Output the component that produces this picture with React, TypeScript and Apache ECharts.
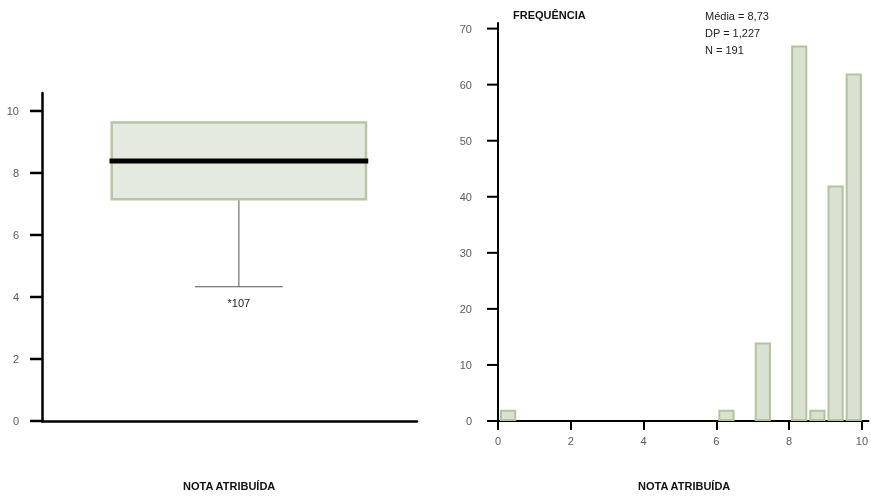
import React, { useEffect, useRef } from "react";
import * as echarts from "echarts";

// Box plot statistics (NOTA ATRIBUÍDA)
const boxStats = { low: 4.33, q1: 7.15, median: 8.39, q3: 9.63 };
const outlierValue = 3.82;
const outlierLabel = "*107";

// Histogram bins: [start, end, frequency]
const binStarts = [0, 6, 7, 8, 8.5, 9, 9.5];
const binEnds = [0.5, 6.5, 7.5, 8.5, 9, 9.5, 10];
const frequencies = [2, 2, 14, 67, 2, 42, 62];

// Tick values of the two y axes
const boxTicks = [0, 2, 4, 6, 8, 10];
const freqTicks = [0, 10, 20, 30, 40, 50, 60, 70];

const statLines = ["Média = 8,73", "DP = 1,227", "N = 191"];
const xTitle = "NOTA ATRIBUÍDA";
const yTitle = "FREQUÊNCIA";

const FONT = "'Liberation Sans', Arial, sans-serif";
const LABEL_COLOR = "#5a5a5a";

export default function App() {
  const ref = useRef<HTMLDivElement>(null);
  useEffect(() => {
    if (!ref.current) return;
    const chart = echarts.init(ref.current, undefined, { renderer: "svg" });
    const histData = binStarts.map((s, i) => [s, binEnds[i], frequencies[i]]);

    const tickSeries = (xi: number, ticks: number[], len: number, w: number) => ({
      type: "custom",
      xAxisIndex: xi,
      yAxisIndex: xi,
      data: ticks.map((t) => [0, t]),
      encode: { x: 0, y: 1 },
      renderItem: (params: any, api: any) => {
        const p = api.coord([api.value(0), api.value(1)]);
        return {
          type: "line",
          shape: { x1: p[0] - len, y1: p[1], x2: p[0], y2: p[1] },
          style: { stroke: "#000", lineWidth: w },
        };
      },
    });

    const titleStyle = { fontFamily: FONT, fontWeight: "bold", fontSize: 11, color: "#111" };

    const option: any = {
      animation: false,
      title: [
        { text: yTitle, left: 513, top: 9, padding: 0, textStyle: titleStyle },
        {
          text: statLines.join("\n"),
          left: 705,
          top: 7,
          padding: 0,
          textStyle: { fontFamily: FONT, fontWeight: "normal", fontSize: 11, lineHeight: 17, color: "#222" },
        },
        { text: xTitle, left: 183, top: 480, padding: 0, textStyle: titleStyle },
        { text: xTitle, left: 638, top: 480, padding: 0, textStyle: titleStyle },
      ],
      grid: [
        { left: 42, right: 454, top: 93, bottom: 75 },
        { left: 498, right: 1, top: 23, bottom: 75 },
      ],
      xAxis: [
        {
          gridIndex: 0,
          type: "value",
          min: 0,
          max: 1,
          axisLine: { show: true, lineStyle: { color: "#000", width: 2.5 } },
          axisTick: { show: false },
          axisLabel: { show: false },
          splitLine: { show: false },
        },
        {
          gridIndex: 1,
          type: "value",
          min: 0,
          max: 10.18,
          interval: 2,
          axisLine: { show: true, lineStyle: { color: "#000", width: 2 } },
          axisTick: { show: true, length: 9, lineStyle: { color: "#000", width: 2 } },
          axisLabel: {
            color: LABEL_COLOR,
            fontSize: 11,
            margin: 14,
            fontFamily: FONT,
            showMaxLabel: false,
          },
          splitLine: { show: false },
        },
      ],
      yAxis: [
        {
          gridIndex: 0,
          type: "value",
          min: 0,
          max: 10.58,
          interval: 2,
          axisLine: { show: true, lineStyle: { color: "#000", width: 2.5 } },
          axisTick: { show: false },
          axisLabel: { color: LABEL_COLOR, fontSize: 11, margin: 23, fontFamily: FONT, showMaxLabel: false },
          splitLine: { show: false },
        },
        {
          gridIndex: 1,
          type: "value",
          min: 0,
          max: 71,
          interval: 10,
          axisLine: { show: true, lineStyle: { color: "#000", width: 2 } },
          axisTick: { show: false },
          axisLabel: { color: LABEL_COLOR, fontSize: 11, margin: 26, fontFamily: FONT, showMaxLabel: false },
          splitLine: { show: false },
        },
      ],
      series: [
        tickSeries(0, boxTicks, 12, 2.5),
        tickSeries(1, freqTicks, 11, 2),
        {
          type: "custom",
          xAxisIndex: 0,
          yAxisIndex: 0,
          data: [[0.525, boxStats.median]],
          encode: { x: 0, y: 1 },
          renderItem: (params: any, api: any) => {
            const xc = api.value(0);
            const half = 0.339;
            const cap = 0.117;
            const tl = api.coord([xc - half, boxStats.q3]);
            const br = api.coord([xc + half, boxStats.q1]);
            const med1 = api.coord([xc - half - 0.006, boxStats.median]);
            const med2 = api.coord([xc + half + 0.006, boxStats.median]);
            const wTop = api.coord([xc, boxStats.q1]);
            const wBot = api.coord([xc, boxStats.low]);
            const c1 = api.coord([xc - cap, boxStats.low]);
            const c2 = api.coord([xc + cap, boxStats.low]);
            const out = api.coord([xc, outlierValue]);
            return {
              type: "group",
              children: [
                {
                  type: "line",
                  shape: { x1: wTop[0], y1: wTop[1], x2: wBot[0], y2: wBot[1] },
                  style: { stroke: "#555", lineWidth: 1 },
                },
                {
                  type: "line",
                  shape: { x1: c1[0], y1: c1[1], x2: c2[0], y2: c2[1] },
                  style: { stroke: "#555", lineWidth: 1 },
                },
                {
                  type: "rect",
                  shape: { x: tl[0], y: tl[1], width: br[0] - tl[0], height: br[1] - tl[1] },
                  style: { fill: "#e4eadf", stroke: "#b7c6a4", lineWidth: 2.5 },
                },
                {
                  type: "line",
                  shape: { x1: med1[0], y1: med1[1], x2: med2[0], y2: med2[1] },
                  style: { stroke: "#000", lineWidth: 5 },
                },
                {
                  type: "text",
                  x: out[0],
                  y: out[1],
                  style: {
                    text: outlierLabel,
                    fill: "#222",
                    fontSize: 11,
                    fontFamily: FONT,
                    align: "center",
                    verticalAlign: "middle",
                  },
                },
              ],
            };
          },
        },
        {
          type: "custom",
          xAxisIndex: 1,
          yAxisIndex: 1,
          data: histData,
          encode: { x: [0, 1], y: 2 },
          renderItem: (params: any, api: any) => {
            const s = api.value(0);
            const e = api.value(1);
            const f = api.value(2);
            const p1 = api.coord([s, f]);
            const p2 = api.coord([e, 0]);
            const x = p1[0] + 3;
            const w = p2[0] - 1 - x;
            const y = p1[1] + 1;
            const h = p2[1] - 1 - y;
            return {
              type: "rect",
              shape: { x, y, width: w, height: h },
              style: { fill: "#d9e1d0", stroke: "#b4c39f", lineWidth: 2 },
            };
          },
        },
      ],
    };
    chart.setOption(option);
    return () => chart.dispose();
  }, []);
  return <div ref={ref} style={{ position: "fixed", left: 0, top: 0, width: 871, height: 496 }} />;
}
